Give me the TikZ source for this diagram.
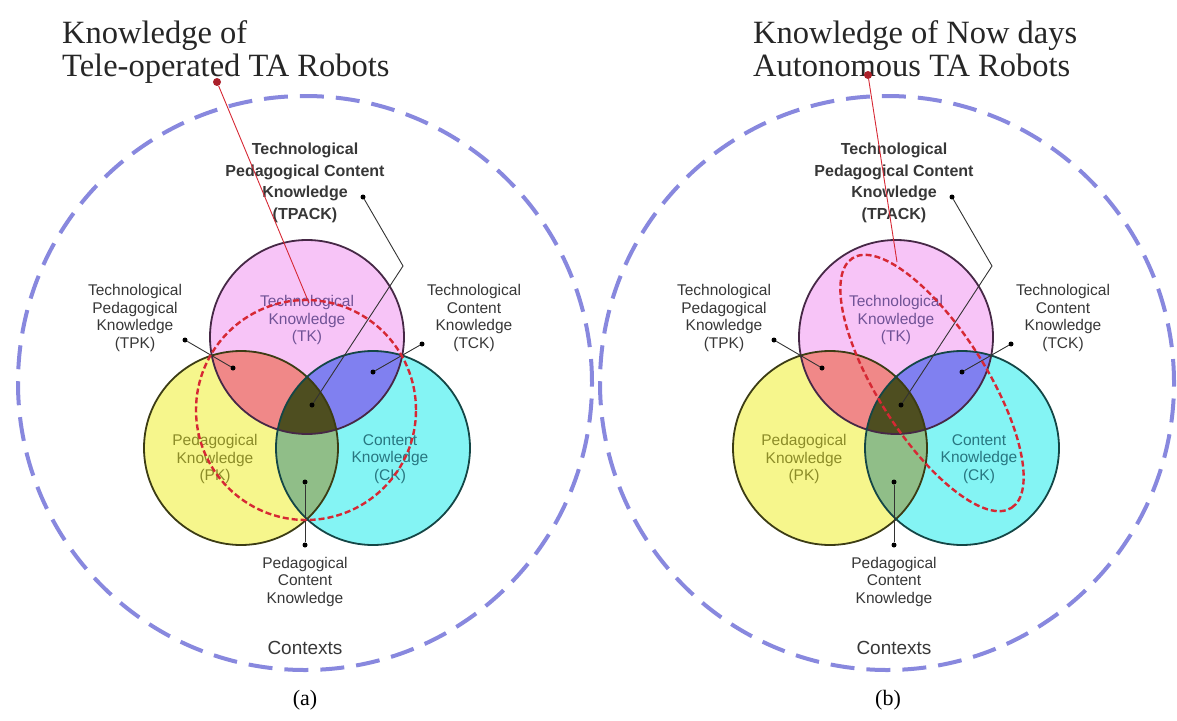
\documentclass[tikz,border=0pt]{standalone}
\usepackage{fontspec}
\setmainfont{Liberation Serif}
\setsansfont{Liberation Sans}
\usetikzlibrary{positioning}

\definecolor{ctxblue}{RGB}{136,136,222}
\definecolor{tkpink}{RGB}{247,196,247}
\definecolor{pkyellow}{RGB}{246,246,140}
\definecolor{ckcyan}{RGB}{132,244,244}
\definecolor{tpkred}{RGB}{240,136,136}
\definecolor{tckblue}{RGB}{128,128,240}
\definecolor{pckgreen}{RGB}{144,190,136}
\definecolor{corekn}{RGB}{78,78,32}
\definecolor{tkring}{RGB}{70,40,70}
\definecolor{pkring}{RGB}{60,60,20}
\definecolor{ckring}{RGB}{20,70,70}
\definecolor{lblgray}{RGB}{55,55,55}
\definecolor{tktext}{RGB}{112,82,150}
\definecolor{pktext}{RGB}{140,140,40}
\definecolor{cktext}{RGB}{40,118,128}
\definecolor{robotred}{RGB}{214,40,52}

\tikzset{
  ctx/.style={draw=ctxblue, line width=4pt, dash pattern=on 24pt off 12pt},
  ring/.style={line width=1.8pt},
  lbl/.style={font=\sffamily\fontsize{15.5}{17.6}\selectfont, text=lblgray, align=center, inner sep=0pt},
  tpacklbl/.style={font=\sffamily\bfseries\fontsize{16}{21.5}\selectfont, text=lblgray, align=center, inner sep=0pt},
  title/.style={font=\fontsize{32.5}{33}\selectfont, text=black!85, align=left, inner sep=0pt, anchor=north west},
  pindot/.style={circle, fill=black, inner sep=0pt, minimum size=5pt},
  leader/.style={draw=black!80, line width=0.9pt},
  reddot/.style={circle, fill=robotred!80!black, inner sep=0pt, minimum size=8pt},
  redline/.style={draw=robotred, line width=0.9pt},
  reach/.style={draw=robotred, line width=2.4pt, dash pattern=on 6pt off 3pt}
}

\begin{document}
\begin{tikzpicture}[x=1pt, y=-1pt]
  \useasboundingbox (0,0) rectangle (1177,720);

  % contexts
  \draw[ctx] (305,383) circle (287pt);
  \draw[ctx] (887,383) circle (287pt);

  \foreach \p/\dx in {a/0,b/589}{
    \begin{scope}[xshift=\dx]
      % the three sets
      \fill[tkpink] (307,337) circle (97pt);
      \fill[pkyellow] (241,448) circle (97pt);
      \fill[ckcyan] (373,448) circle (97pt);
      \begin{scope}
        \clip (241,448) circle (97pt);
        \fill[pckgreen] (373,448) circle (97pt);
      \end{scope}
      \begin{scope}
        \clip (307,337) circle (97pt);
        \fill[tpkred] (241,448) circle (97pt);
        \fill[tckblue] (373,448) circle (97pt);
        \clip (241,448) circle (97pt);
        \fill[corekn] (373,448) circle (97pt);
      \end{scope}
      \draw[ring, tkring] (307,337) circle (97pt);
      \draw[ring, pkring] (241,448) circle (97pt);
      \draw[ring, ckring] (373,448) circle (97pt);

      % labels
      \node[lbl, text=tktext] (tk\p) at (307,320) {Technological\\Knowledge\\(TK)};
      \node[lbl, text=pktext] (pk\p) at (215,459) {Pedagogical\\Knowledge\\(PK)};
      \node[lbl, text=cktext] (ck\p) at (390,459) {Content\\Knowledge\\(CK)};
      \node[tpacklbl] (tpack\p) at (305,183) {Technological\\Pedagogical Content\\Knowledge\\(TPACK)};
      \node[lbl] (tpk\p) at (135,318) {Technological\\Pedagogical\\Knowledge\\(TPK)};
      \node[lbl] (tck\p) at (474,318) {Technological\\Content\\Knowledge\\(TCK)};
      \node[pindot] (pckdot\p) at (305,545) {};
      \node[lbl, below=9pt of pckdot\p] (pck\p) {Pedagogical\\Content\\Knowledge};
      \node[lbl, font=\sffamily\fontsize{19}{21}\selectfont] (ctx\p) at (305,648) {Contexts};

      % leaders
      \node[pindot] (tpackdot\p) at (363,197) {};
      \node[pindot] (coredot\p) at (312,405) {};
      \coordinate (bend\p) at (403,266);
      \node[pindot] (tpkdot\p) at (185,340) {};
      \node[pindot] (tpkend\p) at (233,368) {};
      \node[pindot] (tckdot\p) at (422,344) {};
      \node[pindot] (tckend\p) at (373,372) {};
      \node[pindot] (pckend\p) at (305,482) {};
      \draw[leader] (tpackdot\p) -- (bend\p) -- (coredot\p);
      \draw[leader] (tpkdot\p) -- (tpkend\p);
      \draw[leader] (tckdot\p) -- (tckend\p);
      \draw[leader] (pckdot\p) -- (pckend\p);
    \end{scope}
  }

  % robots
  \node[title] (titlea) at (62,20) {Knowledge of\\Tele-operated TA Robots};
  \node[title] (titleb) at (753,20) {Knowledge of Now days\\Autonomous TA Robots};
  \draw[reach] (306,410) circle (110pt);
  \draw[reach, rotate around={-57.5:(932,383)}] (932,383) ellipse [x radius=148pt, y radius=54pt];
  \node[reddot] (robota) at (217,82) {};
  \node[reddot] (robotb) at (868,75) {};
  \coordinate (hita) at (309,303);
  \coordinate (hitb) at (897,262);
  \draw[redline] (robota) -- (hita);
  \draw[redline] (robotb) -- (hitb);

  \node[font=\fontsize{22}{24}\selectfont] (capa) at (305,700) {(a)};
  \node[font=\fontsize{22}{24}\selectfont] (capb) at (888,700) {(b)};
\end{tikzpicture}
\end{document}
